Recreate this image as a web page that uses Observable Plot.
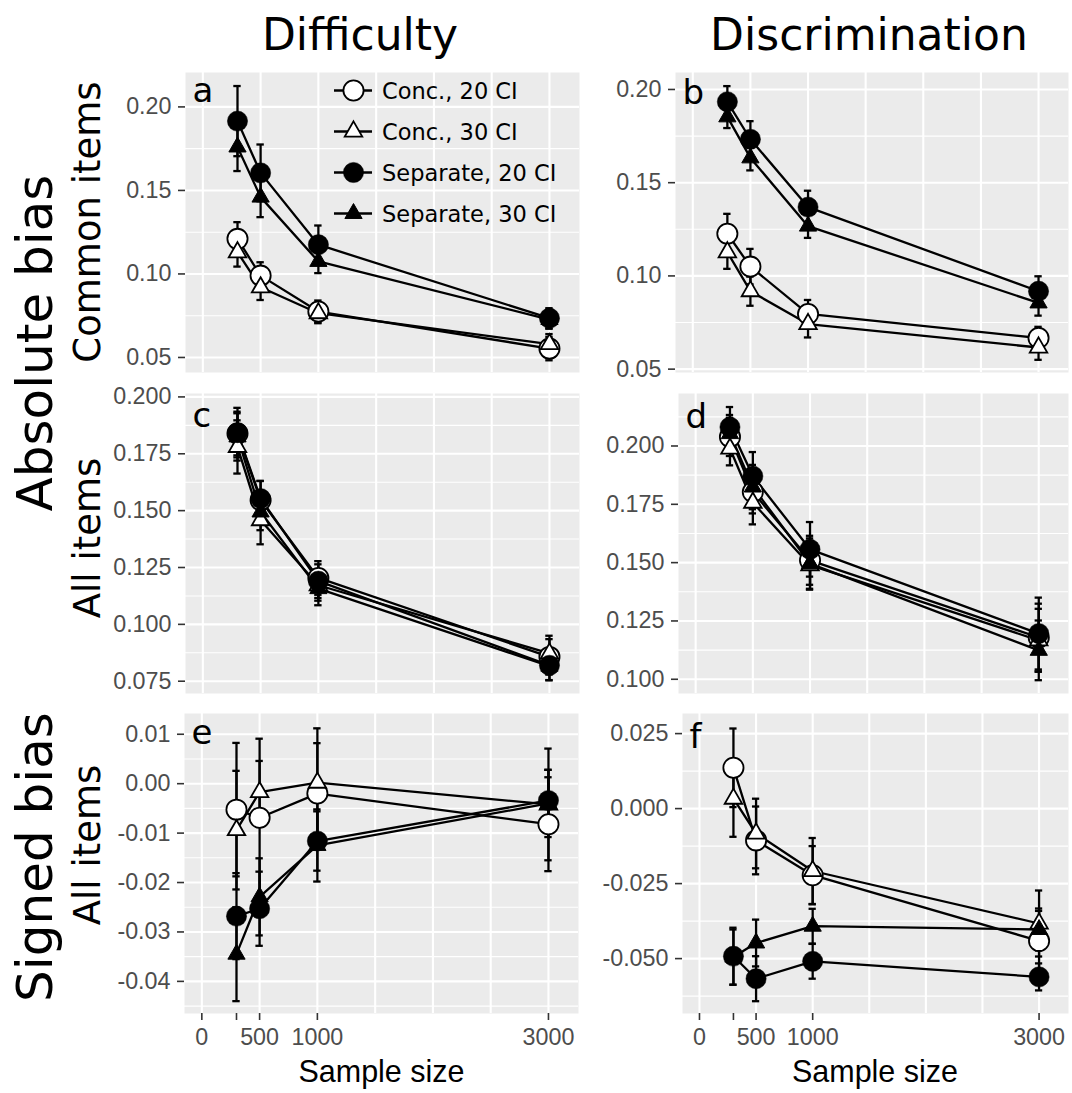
<!DOCTYPE html>
<html>
<head>
<meta charset="utf-8">
<script src="https://cdn.jsdelivr.net/npm/d3@7"></script>
<script src="https://cdn.jsdelivr.net/npm/@observablehq/plot@0.6"></script>
<style>
  html, body { margin: 0; padding: 0; background: #fff; }
  #figure { position: relative; width: 1072px; height: 1093px; overflow: hidden; background: #fff; }
  #figure svg { position: absolute; }
</style>
</head>
<body>
<div id="figure"></div>
<script>
// ---- data -------------------------------------------------------------
const sampleSizes = [300, 500, 1000, 3000];
const methods = ["Conc., 20 CI", "Conc., 30 CI", "Separate, 20 CI", "Separate, 30 CI"];

// x axis breaks shared by every panel
const xTicks = [0, 300, 500, 1000, 3000];
const xTickLabels = ["0", "", "500", "1000", "3000"];
const xGrid = [0, 500, 1000, 1500, 2000, 2500, 3000];

// each row of a mean / err table follows the order of `methods`
// (a) Difficulty – absolute bias, common items
const aMean = [
  [0.1210, 0.0990, 0.0775, 0.0553],
  [0.1130, 0.0920, 0.0765, 0.0580],
  [0.1915, 0.1605, 0.1175, 0.0735],
  [0.1760, 0.1460, 0.1075, 0.0727]
];
const aErr = [
  [0.0100, 0.0080, 0.0066, 0.0070],
  [0.0086, 0.0076, 0.0060, 0.0060],
  [0.0210, 0.0170, 0.0115, 0.0060],
  [0.0144, 0.0120, 0.0070, 0.0055]
];
// (b) Discrimination – absolute bias, common items
const bMean = [
  [0.1226, 0.1050, 0.0796, 0.0667],
  [0.1127, 0.0918, 0.0742, 0.0616],
  [0.1934, 0.1733, 0.1369, 0.0918],
  [0.1853, 0.1633, 0.1267, 0.0855]
];
const bErr = [
  [0.0107, 0.0095, 0.0075, 0.0060],
  [0.0089, 0.0078, 0.0072, 0.0066],
  [0.0084, 0.0097, 0.0088, 0.0080],
  [0.0060, 0.0067, 0.0063, 0.0068]
];
// (c) Difficulty – absolute bias, all items
const cMean = [
  [0.1839, 0.1546, 0.1204, 0.0857],
  [0.1780, 0.1458, 0.1172, 0.0872],
  [0.1843, 0.1553, 0.1190, 0.0820],
  [0.1824, 0.1494, 0.1157, 0.0816]
];
const cErr = [
  [0.0096, 0.0085, 0.0074, 0.0078],
  [0.0117, 0.0106, 0.0068, 0.0078],
  [0.0109, 0.0077, 0.0074, 0.0065],
  [0.0104, 0.0080, 0.0073, 0.0062]
];
// (d) Discrimination – absolute bias, all items
const dMean = [
  [0.2039, 0.1803, 0.1510, 0.1179],
  [0.1989, 0.1757, 0.1489, 0.1167],
  [0.2081, 0.1871, 0.1557, 0.1196],
  [0.2053, 0.1824, 0.1496, 0.1124]
];
const dErr = [
  [0.0082, 0.0092, 0.0105, 0.0145],
  [0.0072, 0.0093, 0.0105, 0.0135],
  [0.0086, 0.0103, 0.0117, 0.0154],
  [0.0080, 0.0095, 0.0108, 0.0128]
];
// (e) Difficulty – signed bias, all items
const eMean = [
  [-0.00525, -0.0069, -0.0020, -0.0082],
  [-0.0094, -0.0017, 0.0002, -0.0042],
  [-0.0268, -0.0253, -0.0116, -0.0034],
  [-0.0345, -0.0229, -0.0125, -0.0040]
];
const eErr = [
  [0.0135, 0.0160, 0.0102, 0.0095],
  [0.0120, 0.0063, 0.0110, 0.0113],
  [0.0087, 0.0075, 0.0060, 0.0062],
  [0.0095, 0.0078, 0.0073, 0.0068]
];
// (f) Discrimination – signed bias, all items
const fMean = [
  [0.0136, -0.0106, -0.0222, -0.0441],
  [0.0033, -0.0083, -0.0208, -0.0383],
  [-0.0492, -0.0567, -0.0509, -0.0561],
  [-0.0495, -0.0448, -0.0392, -0.0403]
];
const fErr = [
  [0.0131, 0.0113, 0.0097, 0.0100],
  [0.0127, 0.0116, 0.0110, 0.0110],
  [0.0095, 0.0075, 0.0058, 0.0045],
  [0.0092, 0.0078, 0.0058, 0.0070]
];

// y breaks (labelled) and minor grid lines per panel
const aTicks = [0.05, 0.10, 0.15, 0.20], aMinor = [0.075, 0.125, 0.175];
const bTicks = [0.05, 0.10, 0.15, 0.20], bMinor = [0.075, 0.125, 0.175];
const cTicks = [0.075, 0.100, 0.125, 0.150, 0.175, 0.200], cMinor = [0.0875, 0.1125, 0.1375, 0.1625, 0.1875];
const dTicks = [0.100, 0.125, 0.150, 0.175, 0.200], dMinor = [0.1125, 0.1375, 0.1625, 0.1875, 0.2125];
const eTicks = [-0.04, -0.03, -0.02, -0.01, 0.00, 0.01], eMinor = [-0.045, -0.035, -0.025, -0.015, -0.005, 0.005];
const fTicks = [-0.050, -0.025, 0.000, 0.025], fMinor = [-0.0625, -0.0375, -0.0125, 0.0125];

// ---- layout -----------------------------------------------------------
const xDomain = [-150, 3260];
const capWidth = 64;            // error-bar cap width, in sample-size units
const panels = [
  {letter: "a", mean: aMean, err: aErr, ticks: aTicks, minor: aMinor, digits: 2, y: [0.041, 0.2206], left: 185, right: 579, top: 72, bottom: 372, ly: 29.5},
  {letter: "b", mean: bMean, err: bErr, ticks: bTicks, minor: bMinor, digits: 2, y: [0.0482, 0.2091], left: 675, right: 1068, top: 72, bottom: 372, ly: 31},
  {letter: "c", mean: cMean, err: cErr, ticks: cTicks, minor: cMinor, digits: 3, y: [0.0696, 0.2015], left: 185, right: 579, top: 393, bottom: 693, ly: 33.5},
  {letter: "d", mean: dMean, err: dErr, ticks: dTicks, minor: dMinor, digits: 3, y: [0.0939, 0.2225], left: 678, right: 1068, top: 393, bottom: 693, ly: 34.5},
  {letter: "e", mean: eMean, err: eErr, ticks: eTicks, minor: eMinor, digits: 2, y: [-0.0465, 0.0142], left: 184, right: 578, top: 713, bottom: 1013, ly: 30, xAxis: true},
  {letter: "f", mean: fMean, err: fErr, ticks: fTicks, minor: fMinor, digits: 3, y: [-0.0683, 0.0317], left: 682, right: 1068, top: 713, bottom: 1013, ly: 34, xAxis: true}
];

// marker style per method
const markerStyle = [
  {symbol: "circle",   fill: "#fff", stroke: "#000", strokeWidth: 1.8, r: 10.1},
  {symbol: "triangle", fill: "#fff", stroke: "#000", strokeWidth: 1.8, r: 6.5},
  {symbol: "circle",   fill: "#000", stroke: "#000", strokeWidth: 0.5, r: 10.1},
  {symbol: "triangle", fill: "#000", stroke: "#000", strokeWidth: 1.0, r: 6.4}
];

const tickFont = "'Liberation Sans', Arial, Helvetica, sans-serif";
const labelFont = "'DejaVu Sans', Verdana, sans-serif";
const figure = document.getElementById("figure");

for (const p of panels) {
  const rows = [];
  methods.forEach((m, i) => sampleSizes.forEach((n, j) => {
    rows.push({method: m, k: i, n, v: p.mean[i][j], e: p.err[i][j]});
  }));
  const mL = 95, mR = 6, mT = 12, mB = p.xAxis ? 45 : 12;
  const width = p.right - p.left + mL + mR;
  const height = p.bottom - p.top + mT + mB;
  const fmt = d => d.toFixed(p.digits);

  const marks = [
    Plot.frame({fill: "#EBEBEB", stroke: null}),
    Plot.ruleY(p.minor, {stroke: "#fff", strokeWidth: 1.1}),
    Plot.ruleY(p.ticks, {stroke: "#fff", strokeWidth: 2.1}),
    Plot.ruleX(xGrid, {stroke: "#fff", strokeWidth: 2.1}),
    Plot.line(rows, {x: "n", y: "v", z: "method", stroke: "#000", strokeWidth: 2.3}),
    Plot.ruleX(rows, {x: "n", y1: d => d.v - d.e, y2: d => d.v + d.e, stroke: "#000", strokeWidth: 2.3}),
    Plot.ruleY(rows, {y: d => d.v + d.e, x1: d => d.n - capWidth / 2, x2: d => d.n + capWidth / 2, stroke: "#000", strokeWidth: 2.3}),
    Plot.ruleY(rows, {y: d => d.v - d.e, x1: d => d.n - capWidth / 2, x2: d => d.n + capWidth / 2, stroke: "#000", strokeWidth: 2.3}),
    ...markerStyle.map((s, i) => Plot.dot(rows.filter(d => d.k === i), {x: "n", y: "v", ...s})),
    Plot.axisY({ticks: p.ticks, tickFormat: fmt, tickSize: 7, tickPadding: 7, stroke: "#333333", strokeWidth: 1.6, fill: "#4D4D4D", fontSize: 23.3, label: null}),
    Plot.text([p.letter], {frameAnchor: "top-left", lineAnchor: "bottom", textAnchor: "start", dx: 7, dy: p.ly, fontSize: 34, fontFamily: labelFont, fill: "#000"})
  ];
  if (p.xAxis) {
    marks.push(Plot.axisX({
      ticks: xTicks,
      tickFormat: d => xTickLabels[xTicks.indexOf(d)],
      tickSize: 7, tickPadding: 8, stroke: "#333333", strokeWidth: 1.6, fill: "#4D4D4D", fontSize: 23.3, label: null
    }));
  }

  const chart = Plot.plot({
    width, height,
    marginLeft: mL, marginRight: mR, marginTop: mT, marginBottom: mB,
    x: {domain: xDomain, axis: p.xAxis ? undefined : null},
    y: {domain: p.y},
    style: {background: "transparent", overflow: "visible", fontFamily: tickFont, fontSize: "23.3px"},
    marks
  });
  chart.style.left = (p.left - mL) + "px";
  chart.style.top = (p.top - mT) + "px";
  chart.style.maxWidth = "none";
  figure.appendChild(chart);
}

// ---- titles, strip labels, axis titles and legend -------------------------
const overlay = d3.select(figure).append("svg")
  .attr("width", 1072).attr("height", 1093)
  .style("left", "0px").style("top", "0px")
  .style("pointer-events", "none");

const colTitles = [
  {text: "Difficulty", x: 360},
  {text: "Discrimination", x: 869}
];
overlay.selectAll("text.col").data(colTitles).join("text")
  .attr("class", "col")
  .attr("x", d => d.x).attr("y", 50)
  .attr("text-anchor", "middle")
  .attr("font-family", labelFont).attr("font-size", 44)
  .text(d => d.text);

const rowTitles = [
  {text: "Absolute bias", x: 52, y: 343, size: 50},
  {text: "Signed bias", x: 52, y: 857, size: 50},
  {text: "Common items", x: 100, y: 222, size: 37},
  {text: "All items", x: 100, y: 538, size: 37},
  {text: "All items", x: 100, y: 845, size: 37}
];
overlay.selectAll("text.row").data(rowTitles).join("text")
  .attr("class", "row")
  .attr("transform", d => `translate(${d.x},${d.y}) rotate(-90)`)
  .attr("text-anchor", "middle")
  .attr("font-family", labelFont).attr("font-size", d => d.size)
  .text(d => d.text);

const xTitles = [381.5, 875];
overlay.selectAll("text.xtitle").data(xTitles).join("text")
  .attr("class", "xtitle")
  .attr("x", d => d).attr("y", 1082)
  .attr("text-anchor", "middle")
  .attr("font-family", tickFont).attr("font-size", 30.5)
  .text("Sample size");

// legend inside panel (a)
const legend = overlay.append("g").attr("transform", "translate(334,90.5)");
const symbolPath = s => d3.symbol(s.symbol === "circle" ? d3.symbolCircle : d3.symbolTriangle, s.r * s.r * Math.PI)();
methods.forEach((m, i) => {
  const s = markerStyle[i];
  const g = legend.append("g").attr("transform", `translate(0,${i * 41})`);
  g.append("line").attr("x1", 0).attr("x2", 38).attr("y1", 0).attr("y2", 0)
    .attr("stroke", "#000").attr("stroke-width", 2.3);
  g.append("path").attr("d", symbolPath(s)).attr("transform", "translate(19.5,0)")
    .attr("fill", s.fill).attr("stroke", s.stroke).attr("stroke-width", s.strokeWidth);
  g.append("text").attr("x", 48).attr("y", 8.2)
    .attr("font-family", labelFont).attr("font-size", 22.5)
    .text(m);
});
</script>
</body>
</html>
